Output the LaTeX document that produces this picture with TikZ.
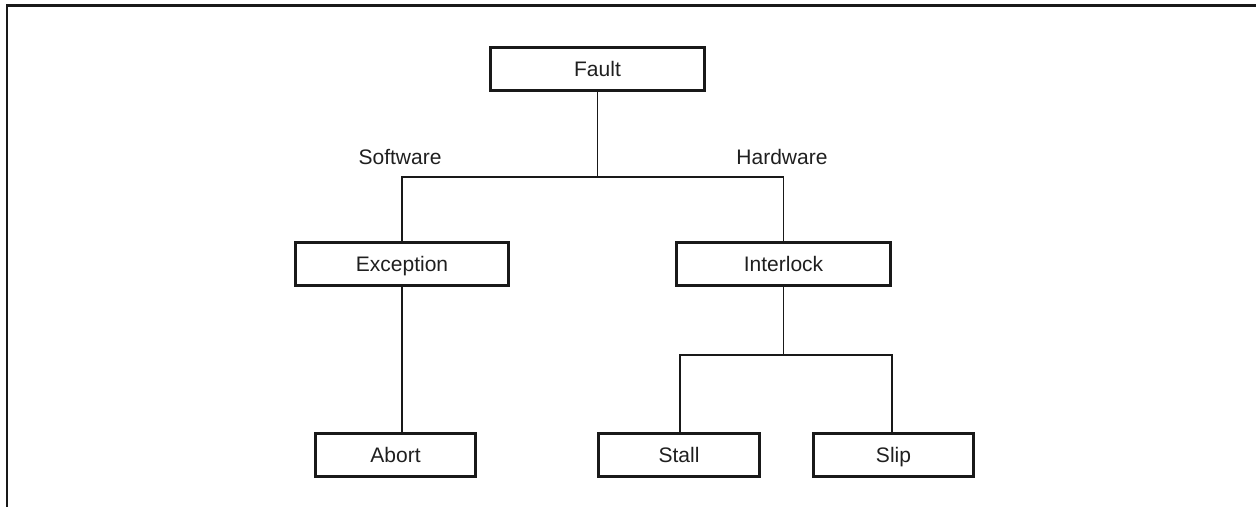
\documentclass[tikz,border=0pt]{standalone}
\usepackage{fontspec}
\setmainfont{Liberation Sans}
\begin{document}
\begin{tikzpicture}[x=1bp,y=-1bp,
  every node/.style={font=\fontsize{21bp}{25bp}\selectfont, text=black!88},
  blockbox/.style={draw=black!90, line width=3bp, rectangle, inner sep=0pt,
    minimum height=43bp, text height=15bp, text depth=0bp},
  link/.style={draw=black!90, line width=1.8bp},
  frameline/.style={draw=black!90, line width=2.2bp}]
  \useasboundingbox (0,0) rectangle (1256,507);
  % outer frame (top and left edges)
  \draw[frameline] (7,507) -- (7,5.5) -- (1256,5.5);

  % blocks
  \node[blockbox, minimum width=214bp] (fault) at (597.5,69) {Fault};
  \node[blockbox, minimum width=213bp] (exc) at (402,264) {Exception};
  \node[blockbox, minimum width=214bp] (ilk) at (783.5,264) {Interlock};
  \node[blockbox, minimum width=160bp] (abort) at (395.5,455) {Abort};
  \node[blockbox, minimum width=161bp] (stall) at (679,455) {Stall};
  \node[blockbox, minimum width=160bp] (slip) at (893.5,455) {Slip};

  % branch labels
  \node (sw) at (400,157) {Software};
  \node (hw) at (782,157) {Hardware};

  % junctions
  \coordinate (j1) at (597.5,177);
  \coordinate (j2) at (783.5,355);

  % connectors
  \draw[link] (fault.south) -- (j1);
  \draw[link] (j1) -| (exc.north);
  \draw[link] (j1) -| (ilk.north);
  \draw[link] (exc.south) -- (exc.south |- abort.north);
  \draw[link] (ilk.south) -- (j2);
  \draw[link] (j2) -| ([xshift=1bp]stall.north);
  \draw[link] (j2) -| ([xshift=-1.5bp]slip.north);
\end{tikzpicture}
\end{document}
